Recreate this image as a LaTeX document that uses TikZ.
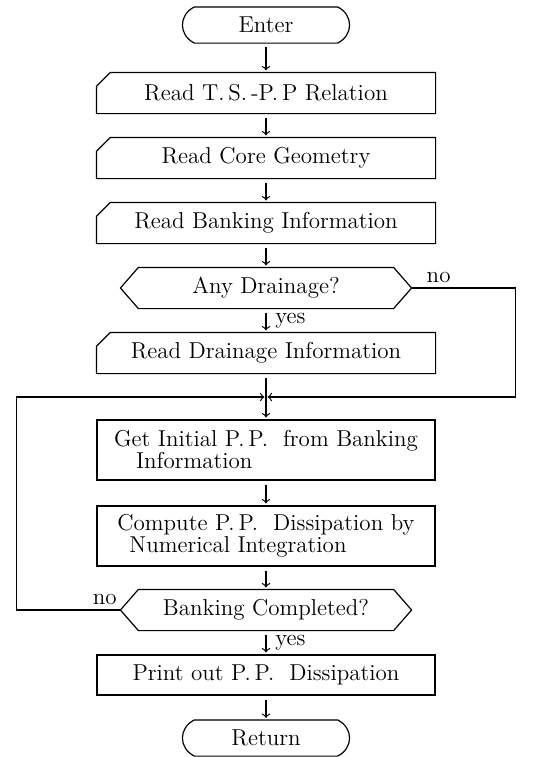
\documentclass[tikz,border=0pt]{standalone}
\usepackage{fontspec}
\usetikzlibrary{calc}
\newcommand\flowfont{\fontsize{11.5}{11}\selectfont}

\begin{document}
\begin{tikzpicture}[>=to, x=0.5pt, y=-0.5pt, line width=0.6pt,
        every node/.style={font=\flowfont},
        terminal/.style={minimum width=71pt, minimum height=17.5pt, inner sep=0pt},
        readbox/.style={minimum width=169pt, minimum height=20pt, inner sep=0pt},
        rectbox/.style={draw, minimum width=169pt, minimum height=20pt, inner sep=0pt},
        procbox/.style={draw, minimum width=169pt, minimum height=30pt, inner ysep=0pt, align=left},
        decision/.style={minimum width=127pt, minimum height=20pt, inner sep=0pt},
        flow/.style={->, shorten <=2pt, shorten >=1pt}]
        % Parameters
        \def\cutW{7pt}
        \def\hexTip{9pt}
        \def\arcW{16}

        \useasboundingbox (0,0) rectangle (536,757);

        % Terminals
        \node[terminal] (enter) at (266,25) {Enter};
        \node[terminal] (ret) at (266,738) {Return};

        % Read steps
        \node[readbox] (ts) at (266,93) {Read T.\,S.\,-P.\,P Relation};
        \node[readbox] (core) at (266,158) {Read Core Geometry};
        \node[readbox] (bank) at (266,223) {Read Banking Information};
        \node[decision] (drain) at (266,288) {Any Drainage?};
        \node[readbox] (rdrain) at (266,353) {Read Drainage Information};

        % Computing loop
        \coordinate (merge) at (266,397);
        \node[procbox] (init) at (266,450) {Get Initial P.\,P. \ from Banking\\\hspace*{11pt}Information};
        \node[procbox] (comp) at (266,536) {Compute P.\,P. \ Dissipation by\\\hspace*{6pt}Numerical Integration};
        \node[decision] (done) at (266,610) {Banking Completed?};
        \node[rectbox] (print) at (266,675) {Print out P.\,P. \ Dissipation};

        % Outlines: cut corner boxes, hexagons, rounded ends
        \foreach \n in {ts,core,bank,rdrain}
            \draw ([xshift=\cutW]\n.north west) -- (\n.north east) -- (\n.south east)
                -- (\n.south west) -- ([yshift=-\cutW]\n.north west) -- cycle;
        \foreach \n in {drain,done}
            \draw (\n.north west) -- (\n.north east) -- ([xshift=\hexTip]\n.east)
                -- (\n.south east) -- (\n.south west) -- ([xshift=-\hexTip]\n.west) -- cycle;
        \foreach \n in {enter,ret}
            \draw (\n.north west) -- (\n.north east)
                .. controls +(\arcW,8) and +(\arcW,-8) .. (\n.south east) -- (\n.south west)
                .. controls +(-\arcW,-8) and +(-\arcW,8) .. (\n.north west);

        \coordinate (drainR) at ([xshift=\hexTip]drain.east);
        \coordinate (doneL) at ([xshift=-\hexTip]done.west);

        % Main flow
        \draw[flow] (enter) -- (ts);
        \draw[flow] (ts) -- (core);
        \draw[flow] (core) -- (bank);
        \draw[flow] (bank) -- (drain);
        \draw[flow] (drain) -- (rdrain) node[midway, right=1pt] {yes};
        \draw[flow] (rdrain) -- (init);
        \draw[flow] (init) -- (comp);
        \draw[flow] (comp) -- (done);
        \draw[flow] (done) -- (print) node[midway, right=1pt] {yes};
        \draw[flow] (print) -- (ret);

        % Branches back to the merge point
        \draw[->, shorten >=0.8pt] (drainR) -- ++(104,0) node[pos=0.26, above=-1pt] {no} |- (merge);
        \draw[->, shorten >=0.8pt] (doneL) -- ++(-104,0) node[pos=0.15, above=-1pt] {no} |- (merge);
    \end{tikzpicture}
\end{document}
